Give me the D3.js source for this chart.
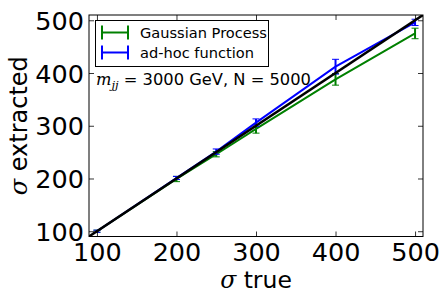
<!DOCTYPE html>
<html><head><meta charset="utf-8">
<script src="https://cdn.jsdelivr.net/npm/d3@7"></script>
<style>body{margin:0;background:#fff}svg{display:block}</style>
</head><body>
<svg id="c" width="445" height="301"></svg>
<script>
const sigmaTrue = [100, 200, 250, 300, 400, 500];
const gpValues = [100, 199, 246, 294, 388, 475];
const gpErrors = [2, 5, 5, 8, 11, 10];
const adhocValues = [100, 201, 251, 306, 412, 496];
const adhocErrors = [2, 3, 5, 7, 14, 6];
const tickValues = [100, 200, 300, 400, 500];
const domain = [90, 510];

const svg = d3.select("#c");
const L = 89, R = 423, T = 15, B = 236.5;
const x = d3.scaleLinear().domain(domain).range([L, R]);
const y = d3.scaleLinear().domain(domain).range([B, T]);
const font = "DejaVu Sans, sans-serif";

svg.append("defs").append("clipPath").attr("id","clip")
  .append("rect").attr("x",L).attr("y",T).attr("width",R-L).attr("height",B-T);

const g = svg.append("g").attr("clip-path","url(#clip)");
const series = [
  {name:"Gaussian Process", color:"#008000", v:gpValues, e:gpErrors},
  {name:"ad-hoc function", color:"#0000ff", v:adhocValues, e:adhocErrors}
];
const line = d3.line().x(d=>x(d[0])).y(d=>y(d[1]));
series.forEach(s=>{
  const pts = sigmaTrue.map((t,i)=>[t, s.v[i], s.e[i]]);
  g.append("path").attr("d", line(pts)).attr("fill","none")
    .attr("stroke", s.color).attr("stroke-width", 2);
  pts.forEach(p=>{
    const cx = x(p[0]), y1 = y(p[1]-p[2]), y2 = y(p[1]+p[2]);
    g.append("line").attr("x1",cx).attr("x2",cx).attr("y1",y1).attr("y2",y2)
      .attr("stroke",s.color).attr("stroke-width",2);
    [y1,y2].forEach(yy=>g.append("line").attr("x1",cx-3.5).attr("x2",cx+3.5)
      .attr("y1",yy).attr("y2",yy).attr("stroke",s.color).attr("stroke-width",1));
  });
});
g.append("path").attr("d", line([[domain[0],domain[0]],[domain[1],domain[1]]]))
  .attr("stroke","#000").attr("stroke-width",2.5).attr("fill","none");

// frame
svg.append("rect").attr("x",L).attr("y",T).attr("width",R-L).attr("height",B-T)
  .attr("fill","none").attr("stroke","#000").attr("stroke-width",1);

// axes
const xb = svg.append("g").attr("transform",`translate(0,${B})`)
  .call(d3.axisBottom(x).tickValues(tickValues).tickSize(-5).tickPadding(6).tickFormat(d3.format("d")));
const xt = svg.append("g").attr("transform",`translate(0,${T})`)
  .call(d3.axisTop(x).tickValues(tickValues).tickSize(-5).tickFormat(""));
const yl = svg.append("g").attr("transform",`translate(${L},0)`)
  .call(d3.axisLeft(y).tickValues(tickValues).tickSize(-5).tickPadding(5).tickFormat(d3.format("d")));
const yr = svg.append("g").attr("transform",`translate(${R},0)`)
  .call(d3.axisRight(y).tickValues(tickValues).tickSize(-5).tickFormat(""));
[xb,xt,yl,yr].forEach(a=>{
  a.select(".domain").remove();
  a.selectAll(".tick line").attr("stroke","#000").attr("stroke-width",0.8);
  a.selectAll("text").attr("font-family",font).attr("font-size",25.5).attr("fill","#000");
});
yl.selectAll("text").attr("dy","0.36em");

// axis labels
const xlab = svg.append("text").attr("x",(L+R)/2).attr("y",288).attr("text-anchor","middle")
  .attr("font-family",font).attr("font-size",23.5).attr("fill","#000");
xlab.append("tspan").attr("font-family","DejaVu Serif").attr("font-style","italic").text("σ");
xlab.append("tspan").text(" true");
const ylab = svg.append("text").attr("transform",`translate(27,${(T+B)/2}) rotate(-90)`)
  .attr("text-anchor","middle").attr("font-family",font).attr("font-size",24).attr("fill","#000");
ylab.append("tspan").attr("font-family","DejaVu Serif").attr("font-style","italic").text("σ");
ylab.append("tspan").text(" extracted");

// legend
const lg = svg.append("g");
lg.append("rect").attr("x",95.5).attr("y",20.5).attr("width",173).attr("height",46)
  .attr("fill","#fff").attr("stroke","#000").attr("stroke-width",1);
series.forEach((s,i)=>{
  const yy = 32.5 + i*20;
  lg.append("line").attr("x1",102).attr("x2",128).attr("y1",yy).attr("y2",yy)
    .attr("stroke",s.color).attr("stroke-width",2);
  [102,128].forEach(xx=>lg.append("line").attr("x1",xx).attr("x2",xx).attr("y1",yy-7).attr("y2",yy+7)
    .attr("stroke",s.color).attr("stroke-width",2));
  lg.append("text").attr("x",140).attr("y",yy+5).attr("font-family",font).attr("font-size",14.6)
    .attr("fill","#000").text(s.name);
});

// annotation
const ann = svg.append("text").attr("x",96).attr("y",85).attr("font-family",font)
  .attr("font-size",16.3).attr("fill","#000");
ann.append("tspan").attr("font-family","DejaVu Serif").attr("font-style","italic").text("m");
ann.append("tspan").attr("font-family","DejaVu Serif").attr("font-style","italic")
  .attr("font-size",11.5).attr("dy",4).text("jj");
ann.append("tspan").attr("dy",-4).text(" = 3000 GeV, N = 5000");
</script>
</body></html>
